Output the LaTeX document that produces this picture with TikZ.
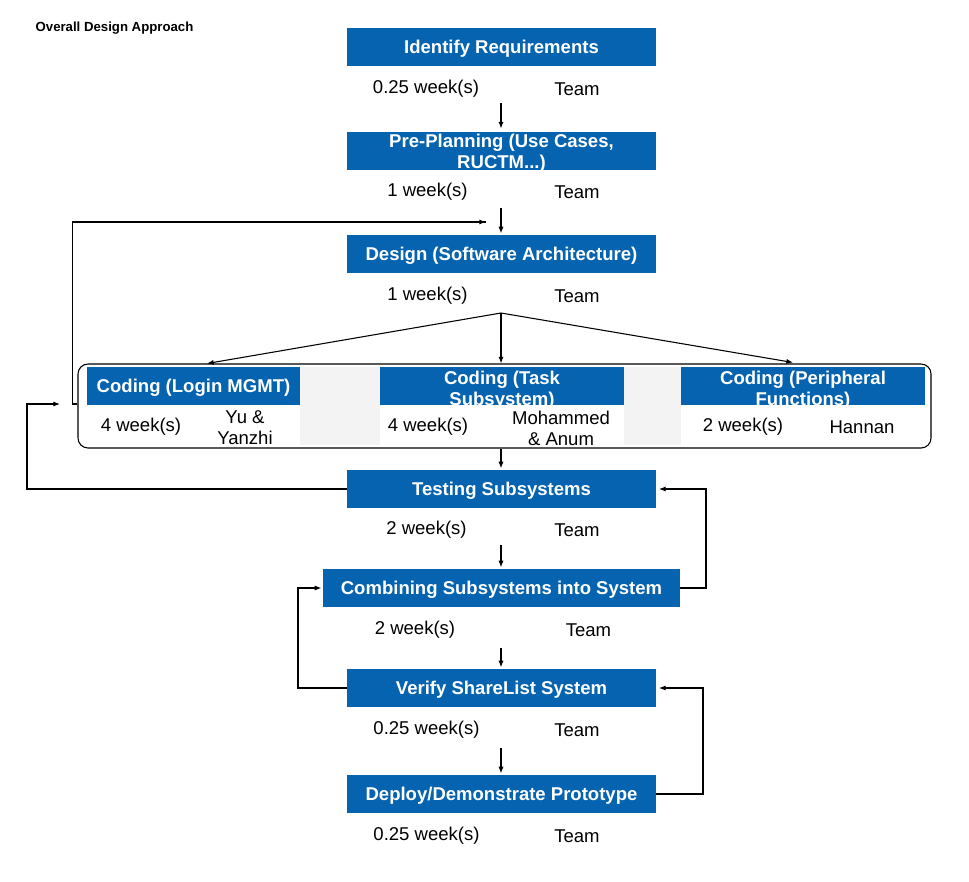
\documentclass[tikz,border=0pt]{standalone}
\usepackage{fontspec}
\setmainfont{Liberation Sans}
\usetikzlibrary{arrows.meta}
\definecolor{boxblue}{RGB}{5,99,175}
\definecolor{cellgray}{RGB}{243,243,243}
\begin{document}
\begin{tikzpicture}[x=0.75pt,y=-0.75pt,
  bx/.style={fill=boxblue, inner sep=0pt, minimum height=28.5pt},
  wide/.style={minimum width=231.75pt},
  btxt/.style={text=white, font=\fontsize{13.9}{15.8}\selectfont\bfseries, align=center, inner sep=0pt, text height=1.15em, text depth=0.21em},
  ltxt/.style={text=white, font=\fontsize{13.9}{15.8}\selectfont\bfseries, align=center, inner sep=0pt},
  rtxt/.style={text=black, font=\fontsize{13.9}{15.8}\selectfont, align=center, inner sep=0pt, yshift=-1.5pt},
  cell/.style={fill=white, inner sep=0pt, minimum height=30pt},
  gap/.style={fill=cellgray, inner sep=0pt, minimum height=58.5pt},
  con/.style={line width=0.8pt, draw=black},
  arr/.style={con, -{Latex[length=5pt,width=3.8pt]}},
]
\path[use as bounding box] (0,0) rectangle (969,881);

\node[font=\fontsize{9.9}{12}\selectfont\bfseries, inner sep=0pt] (title) at (114.5,28.5) {Overall Design Approach};

% main boxes
\node[bx, wide, btxt] (req) at (501.5,47) {Identify Requirements};
\node[bx, wide] (pre) at (501.5,150.5) {};
\node[ltxt] (pretxt) at (501.5,153) {Pre-Planning (Use Cases,\\RUCTM...)};
\node[bx, wide, btxt] (des) at (501.5,254) {Design (Software Architecture)};
\node[bx, wide, btxt] (tst) at (501.5,489) {Testing Subsystems};
\node[bx, minimum width=267.75pt, btxt] (cmb) at (501.5,588) {Combining Subsystems into System};
\node[bx, wide, btxt] (ver) at (501.5,688) {Verify ShareList System};
\node[bx, wide, btxt] (dep) at (501.5,794) {Deploy/Demonstrate Prototype};

% durations
\node[rtxt] (d1) at (426,87) {0.25 week(s)};
\node[rtxt] (t1) at (577,87) {Team};
\node[rtxt] (d2) at (427.5,190) {1 week(s)};
\node[rtxt] (t2) at (577,190) {Team};
\node[rtxt] (d3) at (427.5,294) {1 week(s)};
\node[rtxt] (t3) at (577,294) {Team};
\node[rtxt] (d5) at (426.5,528) {2 week(s)};
\node[rtxt] (t5) at (577,528) {Team};
\node[rtxt] (d6) at (415,628) {2 week(s)};
\node[rtxt] (t6) at (588.5,628) {Team};
\node[rtxt] (d7) at (426.5,728) {0.25 week(s)};
\node[rtxt] (t7) at (577,728) {Team};
\node[rtxt] (d8) at (426.5,834) {0.25 week(s)};
\node[rtxt] (t8) at (577,834) {Team};

% coding group
\node[gap, minimum width=60pt] (g1) at (340,406) {};
\node[gap, minimum width=42.75pt] (g2) at (652.5,406) {};
\node[bx, minimum width=159.75pt] (h1) at (193.5,386) {};
\node[bx, minimum width=183pt] (h2) at (502,386) {};
\node[bx, minimum width=183pt] (h3) at (803,386) {};
\node[btxt] (h1t) at (193.5,386) {Coding (Login MGMT)};
\node[ltxt] (h2t) at (502,390) {Coding (Task\\Subsystem)};
\node[ltxt] (h3t) at (803,390) {Coding (Peripheral\\Functions)};
\node[cell, minimum width=159.75pt] (c1) at (193.5,425) {};
\node[cell, minimum width=183pt] (c2) at (502,425) {};
\node[cell, minimum width=183pt] (c3) at (803,425) {};
\node[rtxt] (c1a) at (141,425) {4 week(s)};
\node[rtxt] (c1b) at (245,426) {Yu \&\\Yanzhi};
\node[rtxt] (c2a) at (428,425) {4 week(s)};
\node[rtxt] (c2b) at (561,426) {Mohammed\\\& Anum};
\node[rtxt] (c3a) at (743,425) {2 week(s)};
\node[rtxt] (c3b) at (862,425) {Hannan};
\node[draw, line width=0.8pt, rounded corners=7.5pt, inner sep=0pt,
      minimum width=639.75pt, minimum height=63pt] (grp) at (504.5,406) {};

% connector coordinates
\coordinate (a1) at (501,103);
\coordinate (a2) at (501,208);
\coordinate (sp) at (501,313);
\coordinate (k1) at (207,363.5);
\coordinate (k2) at (501,363.5);
\coordinate (k3) at (793,362.5);
\coordinate (a5) at (501,545);
\coordinate (a6) at (501,648);
\coordinate (a7) at (501,748);
\coordinate (fb1) at (486,222);
\coordinate (fb2) at (60,404);

% connectors
\draw[arr, shorten >=2pt] (a1) -- (a1 |- pre.north);
\draw[arr, shorten >=1pt] (a2) -- (a2 |- des.north);
\draw[con] (grp.west |- 0,404) -- (72.5,404) -- (72.5,222) -- (fb1);
\draw[arr] (72.5,222) -- (fb1);
\draw[arr] (sp) -- (k1);
\draw[arr] (sp) -- (k2);
\draw[arr] (sp) -- (k3);
\draw[arr, shorten >=1pt] (grp.south -| 501,0) -- (501,0 |- tst.north);
\draw[arr] (tst.west) -- (27,489) -- (27,404) -- (fb2);
\draw[arr, shorten >=1pt] (a5) -- (a5 |- cmb.north);
\draw[arr, shorten >=2pt] (cmb.east) -- (706,588) -- (706,489) -- (tst.east);
\draw[arr, shorten >=1pt] (a6) -- (a6 |- ver.north);
\draw[arr, shorten >=1pt] (ver.west) -- (298,688) -- (298,588) -- (cmb.west);
\draw[arr, shorten >=1pt] (a7) -- (a7 |- dep.north);
\draw[arr, shorten >=2pt] (dep.east) -- (703,794) -- (703,688) -- (ver.east);
\end{tikzpicture}
\end{document}
